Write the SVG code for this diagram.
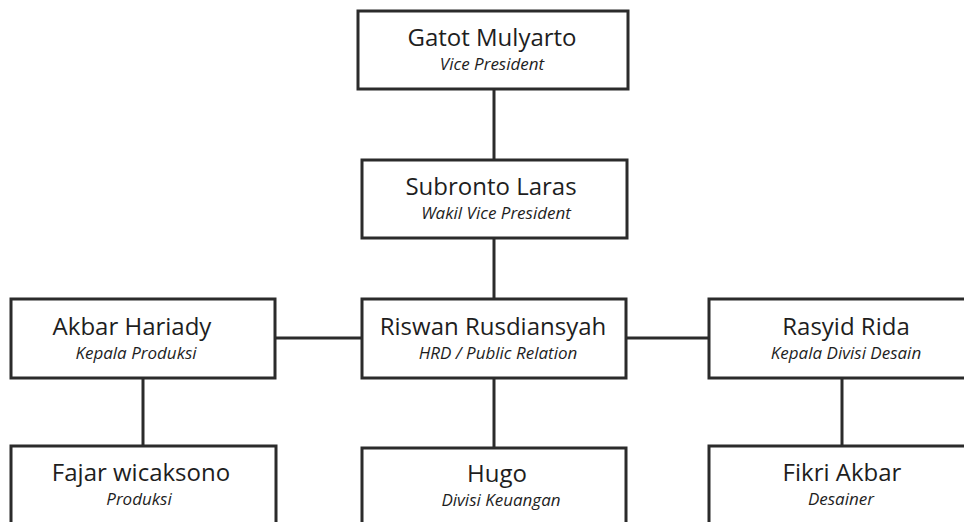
<svg xmlns="http://www.w3.org/2000/svg" width="964" height="522" viewBox="0 0 964 522">
<style>
.box{fill:#fff;stroke:#2b2b2b;stroke-width:3}
.conn line{stroke:#2b2b2b;stroke-width:3}
text{font-family:"Open Sans","Liberation Sans",sans-serif;fill:#1e1e1e;text-anchor:middle}
.name{font-size:24px;font-style:normal}
.role{font-size:17px;font-style:italic}
</style>
<rect width="964" height="522" fill="#fff"/>
<g id="connectors" class="conn">
<line x1="494" y1="89" x2="494" y2="160"/>
<line x1="494" y1="238" x2="494" y2="299"/>
<line x1="494" y1="378" x2="494" y2="448"/>
<line x1="275" y1="338" x2="362" y2="338"/>
<line x1="626" y1="338" x2="709" y2="338"/>
<line x1="143" y1="378" x2="143" y2="446"/>
<line x1="842" y1="378" x2="842" y2="446"/>
</g>
<g id="gatot">
<rect class="box" x="358" y="11" width="270" height="78"/>
<text><tspan class="name" x="492" y="46">Gatot Mulyarto</tspan><tspan class="role" x="492" y="70">Vice President</tspan></text>
</g>
<g id="subronto">
<rect class="box" x="362" y="160" width="265" height="78"/>
<text><tspan class="name" x="491" y="195">Subronto Laras</tspan><tspan class="role" x="496" y="219">Wakil Vice President</tspan></text>
</g>
<g id="akbar">
<rect class="box" x="11" y="299" width="264" height="79"/>
<text><tspan class="name" x="132" y="335">Akbar Hariady</tspan><tspan class="role" x="136" y="359">Kepala Produksi</tspan></text>
</g>
<g id="riswan">
<rect class="box" x="362" y="299" width="264" height="79"/>
<text><tspan class="name" x="493" y="335">Riswan Rusdiansyah</tspan><tspan class="role" x="498" y="359">HRD / Public Relation</tspan></text>
</g>
<g id="rasyid">
<rect class="box" x="709" y="299" width="270" height="79"/>
<text><tspan class="name" x="846" y="335">Rasyid Rida</tspan><tspan class="role" x="846" y="359">Kepala Divisi Desain</tspan></text>
</g>
<g id="fajar">
<rect class="box" x="11" y="446" width="265" height="90"/>
<text><tspan class="name" x="141" y="481">Fajar wicaksono</tspan><tspan class="role" x="139" y="505">Produksi</tspan></text>
</g>
<g id="hugo">
<rect class="box" x="362" y="448" width="264" height="90"/>
<text><tspan class="name" x="497" y="482">Hugo</tspan><tspan class="role" x="501" y="506">Divisi Keuangan</tspan></text>
</g>
<g id="fikri">
<rect class="box" x="709" y="446" width="270" height="90"/>
<text><tspan class="name" x="842" y="481">Fikri Akbar</tspan><tspan class="role" x="841" y="505">Desainer</tspan></text>
</g>
</svg>
